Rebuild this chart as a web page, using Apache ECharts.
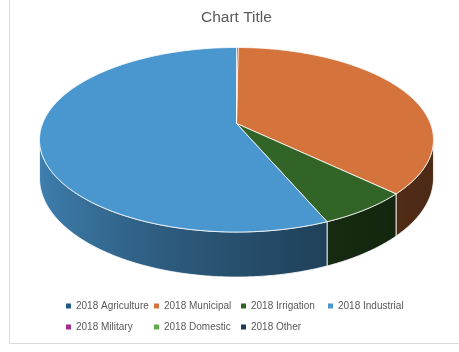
<!DOCTYPE html>
<html>
<head>
<meta charset="utf-8">
<script src="https://cdn.jsdelivr.net/npm/echarts@6/dist/echarts.min.js"></script>
<style>
  html, body { margin: 0; padding: 0; background: #ffffff; }
  #chart { width: 459px; height: 352px; }
</style>
</head>
<body>
<div id="chart"></div>
<script>
// Water use by sector, 2018 (share of total)
const categories = ['2018 Agriculture', '2018 Municipal', '2018 Irrigation', '2018 Industrial',
                    '2018 Military', '2018 Domestic', '2018 Other'];
const values = [0.15, 37.0, 6.45, 56.4, 0, 0, 0];
const colors = ['#1F5A85', '#D4743C', '#336427', '#4A96CF', '#A02B93', '#5BAE44', '#1A3A57'];

const total = values.reduce((a, b) => a + b, 0);
const starts = [];
let acc = 0;
values.forEach(v => { starts.push(acc); acc += v; });

// Perspective view of the tilted disc: angle 0 at 12 o'clock, clockwise
const view = { cx: 236.5, cy: 123.5, a: 193.9, b: 89.4, k: 0.1762, depth: 37.1 };
const TWO_PI = Math.PI * 2;
const phiRight = Math.acos(-view.k);          // right silhouette of the rim
const phiLeft = TWO_PI - phiRight;            // left silhouette of the rim

function project(phi, lower) {
  const x = Math.sin(phi), y = -Math.cos(phi);
  const w = 1 - view.k * y;
  return [view.cx + view.a * x / w, view.cy + (view.b * y + (lower ? view.depth : 0)) / w];
}

function hexToRgb(hex) {
  const n = parseInt(hex.slice(1), 16);
  return [(n >> 16) & 255, (n >> 8) & 255, n & 255];
}
// side walls are lit from the left, darker towards the front-right
function wallShade(hex, phi) {
  const t = Math.pow((1 - Math.sin(phi)) / 2, 1.6);
  const f = 0.36 + 0.5 * t;
  const c = hexToRgb(hex).map(v => Math.round(v * f));
  return 'rgb(' + c.join(',') + ')';
}

function renderSlice(i) {
  return function (params, api) {
    const v = api.value(0);
    const children = [];
    if (!(v > 0)) return { type: 'group', children: children };
    const a0 = starts[i] / total * TWO_PI;
    const a1 = (starts[i] + v) / total * TWO_PI;

    // outer wall (front half only)
    const w0 = Math.max(a0, phiRight), w1 = Math.min(a1, phiLeft);
    if (w1 > w0) {
      const n = Math.max(2, Math.ceil((w1 - w0) / 0.01));
      const upper = [], lower = [];
      for (let j = 0; j <= n; j++) {
        const phi = w0 + (w1 - w0) * j / n;
        upper.push(project(phi, false));
        lower.push(project(phi, true));
      }
      const pts = upper.concat(lower.reverse());
      const xR = project(w0, false)[0], xL = project(w1, false)[0];
      const stops = [];
      const m = 12;
      for (let j = 0; j <= m; j++) {
        const phi = w0 + (w1 - w0) * j / m;
        const x = project(phi, false)[0];
        stops.push({ offset: Math.min(1, Math.max(0, (x - xL) / Math.max(1e-6, xR - xL))), color: wallShade(colors[i], phi) });
      }
      stops.sort((p, q) => p.offset - q.offset);
      children.push({
        type: 'polygon',
        shape: { points: pts },
        style: {
          fill: new echarts.graphic.LinearGradient(xL, 0, xR, 0, stops, true),
          stroke: '#ffffff', lineWidth: 0.8
        }
      });
    }

    // top face
    const n2 = Math.max(2, Math.ceil((a1 - a0) / 0.01));
    const top = [[view.cx, view.cy]];
    for (let j = 0; j <= n2; j++) top.push(project(a0 + (a1 - a0) * j / n2, false));
    children.push({
      type: 'polygon',
      shape: { points: top },
      style: { fill: colors[i], stroke: '#ffffff', lineWidth: 0.8 }
    });
    return { type: 'group', children: children };
  };
}

const legendText = { color: '#595959', fontSize: 10, fontFamily: 'Liberation Sans', lineHeight: 12 };
const legendBase = { orient: 'vertical', icon: 'rect', itemWidth: 5, itemHeight: 5, itemGap: 9, padding: 0, top: 300, textStyle: legendText };

const option = {
  animation: false,
  title: {
    text: 'Chart Title',
    left: 201, top: 10, padding: 0,
    textStyle: { color: '#595959', fontSize: 15.5, fontWeight: 'normal', fontFamily: 'Liberation Sans' }
  },
  legend: [
    Object.assign({}, legendBase, { left: 66, data: [categories[0], categories[4]] }),
    Object.assign({}, legendBase, { left: 154, data: [categories[1], categories[5]] }),
    Object.assign({}, legendBase, { left: 241, data: [categories[2], categories[6]] }),
    Object.assign({}, legendBase, { left: 328, data: [categories[3]] })
  ],
  graphic: [{
    type: 'rect', silent: true, z: -10,
    shape: { x: 9.5, y: -5, width: 500, height: 348.5 },
    style: { fill: 'none', stroke: '#d9d9d9', lineWidth: 1 }
  }],
  series: categories.map((name, i) => ({
    type: 'custom',
    name: name,
    coordinateSystem: 'none',
    renderItem: renderSlice(i),
    data: [values[i]],
    itemStyle: { color: colors[i] },
    silent: true,
    z: i === 0 ? 3 : 2
  }))
};

const chart = echarts.init(document.getElementById('chart'), null, { renderer: 'canvas' });
chart.setOption(option);
</script>
</body>
</html>
